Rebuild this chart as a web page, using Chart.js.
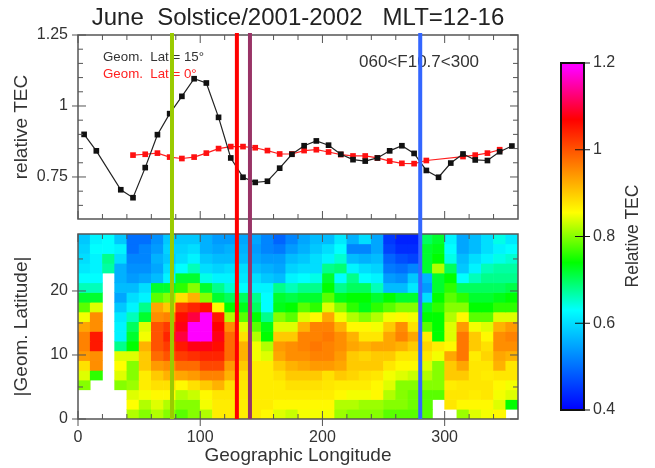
<!DOCTYPE html>
<html lang="en">
<head>
<meta charset="UTF-8">
<title>June Solstice TEC</title>
<script src="https://cdn.jsdelivr.net/npm/chart.js"></script>
<style>
  html, body { margin: 0; background: #fff; }
  /* the reference is a soft, resampled screenshot */
  #page { position: relative; width: 655px; height: 468px; overflow: hidden; background: #fff; font-family: "Liberation Sans", sans-serif; color: #333; filter: blur(0.5px); }
  canvas { position: absolute; left: 0; top: 0; }
  .note { position: absolute; white-space: pre; }
  #markers { z-index: 5; }
</style>
</head>
<body>
<div id="page">
  <canvas id="heat" width="655" height="468"></canvas>
  <canvas id="profile" width="655" height="468"></canvas>
  <canvas id="colorbar" width="655" height="468"></canvas>
  <div class="note" style="left:103px;top:49px;font-size:13.3px">Geom.  Lat.= 15°</div>
  <div class="note" style="left:103px;top:66px;font-size:13.3px;color:#ff2020">Geom.  Lat.= 0°</div>
  <div class="note" style="left:359px;top:52px;font-size:17px">060&lt;F10.7&lt;300</div>
  <div class="note" style="left:632px;top:236px;font-size:17.5px;transform:translate(-50%,-50%) rotate(-90deg)">Relative TEC</div>
  <canvas id="markers" width="655" height="468"></canvas>
</div>
<script>
// Line profiles (top panel)
const lon15 = [5, 15, 35, 45, 55, 65, 75, 85, 95, 105, 115, 125, 135, 145, 155, 165, 175, 185, 195, 205, 215, 225, 235, 245, 255, 265, 275, 285, 295, 305, 315, 325, 335, 345, 355];
const tec15 = [0.90, 0.842, 0.705, 0.677, 0.783, 0.899, 0.973, 1.034, 1.096, 1.081, 0.96, 0.817, 0.749, 0.731, 0.735, 0.781, 0.83, 0.86, 0.877, 0.862, 0.83, 0.811, 0.806, 0.817, 0.842, 0.86, 0.833, 0.773, 0.749, 0.799, 0.831, 0.81, 0.808, 0.839, 0.859];
const lon0 = [45, 55, 65, 75, 85, 95, 105, 115, 125, 135, 145, 155, 165, 175, 185, 195, 205, 215, 225, 235, 245, 255, 265, 275, 285, 315, 325, 335, 345];
const tec0 = [0.827, 0.83, 0.834, 0.82, 0.815, 0.82, 0.834, 0.85, 0.857, 0.857, 0.853, 0.843, 0.831, 0.831, 0.843, 0.846, 0.838, 0.829, 0.824, 0.824, 0.817, 0.806, 0.798, 0.797, 0.808, 0.822, 0.827, 0.834, 0.846];

// Vertical markers
const markerLons = [76.9, 130, 140.7, 280];
const markerColors = ['#9acb00', '#ff0000', '#993366', '#3366ff'];

// Tick labels and minor ticks
const lonTicks = [0, 100, 200, 300];
const lonMinor = [20, 40, 60, 80, 120, 140, 160, 180, 220, 240, 260, 280, 320, 340];
const tecTicks = [0.75, 1, 1.25];
const tecMinor = [0.65, 0.7, 0.8, 0.85, 0.9, 0.95, 1.05, 1.1, 1.15, 1.2];
const latTicks = [0, 10, 20];
const latMinor = [5, 15, 25];
const barTicks = [0.4, 0.6, 0.8, 1, 1.2];

// Colour table of the map
const colorValues = [0.4, 0.63, 0.74, 0.855, 1.07, 1.19];
const colorRgb = [[0, 0, 255], [0, 255, 255], [0, 255, 0], [255, 255, 0], [255, 0, 0], [255, 0, 255]];

// Heat map: 10 deg longitude columns, each listed from the top latitude bin down to 0
const latBins = 19;
const latBinSize = 1.52;
const heatLons = [5, 15, 25, 35, 45, 55, 65, 75, 85, 95, 105, 115, 125, 135, 145, 155, 165, 175, 185, 195, 205, 215, 225, 235, 245, 255, 265, 275, 285, 295, 305, 315, 325, 335, 345, 355];
const heatColumns = [
  [.58, .59, .60, .61, .63, .66, .72, .78, .85, .93, .96, .96, .94, .88, .84, .80, null, null, null],
  [.62, .63, .62, .62, .63, .66, .72, .84, .95, .95, 1.05, 1.05, .95, .95, .76, null, null, null, null],
  [.63, .63, .68, .67, null, null, null, null, null, null, null, null, null, null, null, null, null, null, null],
  [.58, .62, .60, .56, .56, .57, .55, .58, .61, .62, .62, .68, .84, .855, .84, .80, null, null, null],
  [.50, .50, .52, .53, .54, .57, .60, .62, .66, .70, .72, .74, .84, .80, .80, .81, .84, .855, .82],
  [.50, .52, .52, .53, .55, .60, .62, .68, .72, .84, .85, .92, .90, .90, .87, .87, .85, .82, .80],
  [.53, .54, .56, .55, .57, .72, .78, .93, .95, 1.0, 1.0, 1.0, .98, .94, .90, .88, .86, .84, .82],
  [.58, .59, .58, .60, .62, .72, .80, .90, .96, 1.02, 1.04, 1.02, 1.0, .95, .92, .88, .86, .82, .80],
  [.58, .59, .60, .63, .72, .76, .88, 1.02, 1.06, 1.08, 1.10, 1.05, 1.02, .98, .93, .86, .82, .80, .78],
  [.58, .60, .62, .66, .72, .80, .92, 1.04, 1.10, 1.19, 1.19, 1.08, 1.03, .98, .94, .88, .83, .80, .80],
  [.56, .56, .58, .60, .64, .72, .80, 1.06, 1.19, 1.19, 1.19, 1.08, 1.04, 1.01, .96, .90, .86, .85, .82],
  [.54, .55, .57, .59, .62, .68, .72, .86, 1.05, 1.07, 1.08, 1.06, 1.04, 1.01, .96, .92, .875, .87, .87],
  [.54, .56, .57, .60, .62, .65, .70, .74, .82, .95, .98, .98, .98, .94, .92, .88, .875, .87, .87],
  [.55, .56, .57, .60, .61, .63, .70, .73, .78, .84, .88, .92, .92, .90, .88, .875, .87, .87, .87],
  [.55, .54, .55, .57, .60, .62, .68, .70, .74, .78, .82, .85, .85, .87, .87, .87, .87, .87, .87],
  [.52, .52, .54, .56, .58, .62, .63, .63, .68, .73, .74, .82, .84, .87, .87, .87, .87, .87, .86],
  [.49, .51, .54, .55, .57, .68, .72, .73, .80, .84, .90, .94, .93, .90, .88, .87, .87, .86, .84],
  [.52, .54, .57, .59, .62, .66, .71, .74, .78, .84, .90, .95, .95, .92, .90, .88, .87, .86, .83],
  [.55, .56, .58, .60, .63, .68, .72, .78, .84, .92, .96, .96, .95, .93, .90, .88, .87, .86, .85],
  [.57, .58, .60, .60, .64, .68, .72, .76, .86, .96, .96, .97, .96, .94, .90, .88, .87, .86, .85],
  [.57, .60, .62, .68, .72, .74, .78, .84, .93, .96, .97, .96, .96, .94, .88, .875, .87, .86, .85],
  [.61, .63, .65, .69, .63, .68, .73, .80, .85, .92, .95, .95, .94, .93, .90, .87, .86, .82, .81],
  [.56, .52, .57, .62, .68, .70, .74, .76, .82, .86, .92, .93, .90, .90, .89, .87, .85, .82, .80],
  [.60, .52, .56, .60, .63, .70, .74, .73, .80, .86, .875, .92, .89, .90, .88, .87, .85, .81, .80],
  [.55, .55, .57, .59, .62, .66, .72, .76, .82, .85, .875, .93, .90, .90, .875, .86, .86, .81, .80],
  [.45, .46, .49, .51, .54, .57, .74, .78, .85, .90, .93, .93, .90, .875, .85, .84, .82, .80, .78],
  [.43, .44, .47, .50, .53, .57, .72, .80, .86, .95, .96, .92, .875, .86, .84, .80, .80, .80, .78],
  [.43, .44, .46, .52, .58, .61, .72, .80, .85, .88, .93, .90, .875, .86, .83, .80, .79, .79, .78],
  [.70, .72, .72, .72, .56, .54, .60, .72, .74, .78, .87, .89, .875, .84, .82, .80, .78, .78, .78],
  [.72, .73, .74, .82, .72, .72, .74, .76, .74, .74, .74, .87, .85, .80, .80, .80, .78, null, null],
  [.62, .63, .64, .70, .74, .76, .78, .80, .82, .84, .84, .86, .93, .90, .90, .87, .875, .875, null],
  [.55, .55, .57, .58, .63, .70, .76, .80, .86, .94, .97, .97, .97, .93, .90, .875, .875, .86, .81],
  [.57, .57, .60, .62, .66, .70, .72, .74, .78, .85, .90, .90, .87, .875, .875, .875, .87, .86, .84],
  [.60, .60, .62, .66, .68, .70, .72, .74, .78, .84, .86, .88, .89, .875, .87, .875, .875, .86, .85],
  [.64, .62, .64, .67, .68, .70, .73, .76, .84, .92, .95, .95, .93, .92, .875, .86, .85, .84, .86],
  [.61, .63, .65, .67, .68, .71, .74, .76, .84, .94, .96, .95, .92, .875, .875, .85, .84, .74, null]
];

const TEXT = '#333';
const FRAME = '#555';
const FONT = 'Liberation Sans';

function tecColor(value) {
  let i = 0;
  while (i < colorValues.length - 2 && value > colorValues[i + 1]) i++;
  const f = Math.min(1, Math.max(0, (value - colorValues[i]) / (colorValues[i + 1] - colorValues[i])));
  const c = colorRgb[i].map((a, k) => Math.round(a + (colorRgb[i + 1][k] - a) * f));
  return `rgb(${c[0]},${c[1]},${c[2]})`;
}

// IDL style frame: ticks sit on all four sides and point inward
const idlAxes = {
  id: 'idlAxes',
  afterDatasetsDraw(chart, args, opts) {
    if (!opts.xMajor) return;
    const { ctx, chartArea: a, scales } = chart;
    const line = (x0, y0, x1, y1) => { ctx.beginPath(); ctx.moveTo(x0, y0); ctx.lineTo(x1, y1); ctx.stroke(); };
    ctx.save();
    ctx.strokeStyle = FRAME;
    ctx.lineWidth = 1;
    opts.xMinor.forEach(v => {
      const x = scales.x.getPixelForValue(v);
      line(x, a.top, x, a.top + 5);
      line(x, a.bottom, x, a.bottom - 5);
    });
    opts.xMajor.forEach(v => {
      const x = scales.x.getPixelForValue(v);
      line(x, a.top, x, a.top + 8);
      line(x, a.bottom + opts.xOut, x, a.bottom - 8);
    });
    opts.yMinor.forEach(v => {
      const y = scales.y.getPixelForValue(v);
      line(a.left, y, a.left + 5, y);
      line(a.right, y, a.right - 5, y);
    });
    opts.yMajor.forEach(v => {
      const y = scales.y.getPixelForValue(v);
      line(a.left - 6, y, a.left + 8, y);
      line(a.right, y, a.right - 8, y);
    });
    ctx.lineWidth = 1.5;
    ctx.strokeRect(a.left, a.top, a.right - a.left, a.bottom - a.top);
    ctx.restore();
  }
};

const colorbarFrame = {
  id: 'colorbarFrame',
  afterDatasetsDraw(chart, args, opts) {
    if (!opts.ticks) return;
    const { ctx, chartArea: a, scales } = chart;
    ctx.save();
    ctx.strokeStyle = '#111';
    ctx.lineWidth = 2;
    ctx.strokeRect(a.left, a.top, a.right - a.left, a.bottom - a.top);
    ctx.lineWidth = 1;
    opts.ticks.forEach((v, i) => {
      const y = scales.y.getPixelForValue(v);
      const inner = (i === 0 || i === opts.ticks.length - 1) ? 0 : 9;
      ctx.beginPath();
      ctx.moveTo(a.right - inner, y);
      ctx.lineTo(a.right + 6, y);
      ctx.stroke();
    });
    ctx.restore();
  }
};

Chart.register(idlAxes, colorbarFrame);

function fixedTicks(values) {
  return axis => { axis.ticks = values.map(value => ({ value })); };
}

const base = { responsive: false, animation: false, events: [] };
const noLegend = { legend: { display: false }, tooltip: { enabled: false } };

function valueAxis(min, max, ticks, title) {
  return {
    min, max,
    afterBuildTicks: fixedTicks(ticks),
    afterFit: axis => { axis.width = 78; },
    grid: { display: false },
    border: { display: false },
    ticks: { color: TEXT, padding: 2, font: { family: FONT, size: 16 }, autoSkip: false, callback: v => String(v) },
    title: { display: true, text: title, color: TEXT, font: { family: FONT, size: 19 }, padding: { top: 10, bottom: 0 } }
  };
}

// Top panel: relative TEC at two geomagnetic latitudes
new Chart(document.getElementById('profile'), {
  type: 'line',
  data: {
    datasets: [
      {
        data: lon15.map((x, i) => ({ x, y: tec15[i] })),
        borderColor: '#222', backgroundColor: '#111', borderWidth: 1.2,
        pointStyle: 'rect', pointRadius: 4, pointBorderWidth: 0
      },
      {
        data: lon0.map((x, i) => ({ x, y: tec0[i] })),
        borderColor: '#ff2020', backgroundColor: '#ff1010', borderWidth: 1.2,
        pointStyle: 'rect', pointRadius: 4, pointBorderWidth: 0
      }
    ]
  },
  options: {
    ...base,
    layout: { autoPadding: false, padding: { left: 0, right: 137, top: 0, bottom: 249 } },
    scales: {
      x: {
        type: 'linear', min: 0, max: 360,
        afterBuildTicks: fixedTicks(lonTicks),
        afterFit: axis => { axis.height = 0; },
        grid: { display: false }, border: { display: false }, ticks: { display: false }
      },
      y: valueAxis(0.602, 1.25, tecTicks, 'relative TEC')
    },
    plugins: {
      ...noLegend,
      title: {
        display: true, fullSize: false, text: 'June  Solstice/2001-2002   MLT=12-16', color: '#222',
        font: { family: FONT, size: 24, weight: 'normal', lineHeight: 1.2 },
        padding: { top: 4, bottom: 2.2 }
      },
      idlAxes: { xMinor: lonMinor, xMajor: lonTicks, xOut: 0, yMinor: tecMinor, yMajor: tecTicks }
    }
  }
});

// Bottom panel: one floating bar per grid cell, one dataset per latitude bin
const heatDatasets = [];
for (let t = 0; t < latBins; t++) {
  const bottom = (latBins - 1 - t) * latBinSize;
  const cells = [];
  heatColumns.forEach((column, i) => {
    if (column[t] !== null) cells.push({ x: heatLons[i], y: [bottom, bottom + latBinSize], tec: column[t] });
  });
  heatDatasets.push({
    data: cells,
    backgroundColor: ctx => (ctx.raw ? tecColor(ctx.raw.tec) : 'transparent'),
    borderWidth: 0, barPercentage: 1, categoryPercentage: 1, grouped: false
  });
}

new Chart(document.getElementById('heat'), {
  type: 'bar',
  data: { datasets: heatDatasets },
  options: {
    ...base,
    layout: { autoPadding: false, padding: { left: 0, right: 137, top: 234, bottom: 0 } },
    scales: {
      x: {
        type: 'linear', min: 0, max: 360, offset: false,
        afterBuildTicks: fixedTicks(lonTicks),
        afterFit: axis => { axis.height = 49; },
        grid: { display: false, offset: false }, border: { display: false },
        ticks: { color: TEXT, padding: 1, maxRotation: 0, autoSkip: false, font: { family: FONT, size: 16 } },
        title: { display: true, text: 'Geographic Longitude', color: TEXT, font: { family: FONT, size: 19 }, padding: { top: 1, bottom: 1 } }
      },
      y: valueAxis(0, 28.9, latTicks, '|Geom. Latitude|')
    },
    plugins: {
      ...noLegend,
      idlAxes: { xMinor: lonMinor, xMajor: lonTicks, xOut: 7, yMinor: latMinor, yMajor: latTicks }
    }
  }
});

// Colour bar: a single floating bar painted with the colour table
new Chart(document.getElementById('colorbar'), {
  type: 'bar',
  data: {
    labels: [''],
    datasets: [{
      data: [[0.4, 1.2]],
      barPercentage: 1, categoryPercentage: 1, borderWidth: 0,
      backgroundColor: ctx => {
        const y = ctx.chart.scales.y;
        const y0 = y ? y.getPixelForValue(0.4) : NaN;
        const y1 = y ? y.getPixelForValue(1.2) : NaN;
        if (!Number.isFinite(y0) || !Number.isFinite(y1)) return '#000';
        const g = ctx.chart.ctx.createLinearGradient(0, y0, 0, y1);
        colorValues.forEach(v => g.addColorStop((v - 0.4) / 0.8, tecColor(v)));
        return g;
      }
    }]
  },
  options: {
    ...base,
    layout: { autoPadding: false, padding: { left: 561, right: 0, top: 63, bottom: 58 } },
    scales: {
      x: { display: false },
      y: {
        position: 'right', min: 0.4, max: 1.2,
        afterBuildTicks: fixedTicks(barTicks),
        afterFit: axis => { axis.width = 71; },
        grid: { display: false }, border: { display: false },
        ticks: { color: TEXT, padding: 1, font: { family: FONT, size: 16 }, autoSkip: false, callback: v => String(v) }
      }
    },
    plugins: { ...noLegend, colorbarFrame: { ticks: barTicks } }
  }
});

// Vertical markers run through both panels, so they get their own transparent chart
new Chart(document.getElementById('markers'), {
  type: 'line',
  data: {
    datasets: markerLons.map((lon, i) => ({
      data: [{ x: lon, y: 0 }, { x: lon, y: 1 }],
      borderColor: markerColors[i], borderWidth: 4, pointRadius: 0
    }))
  },
  options: {
    ...base,
    layout: { autoPadding: false, padding: { left: 78, right: 137, top: 33, bottom: 49 } },
    scales: {
      x: { type: 'linear', display: false, min: 0, max: 360 },
      y: { display: false, min: 0, max: 1 }
    },
    plugins: noLegend
  }
});
</script>
</body>
</html>
